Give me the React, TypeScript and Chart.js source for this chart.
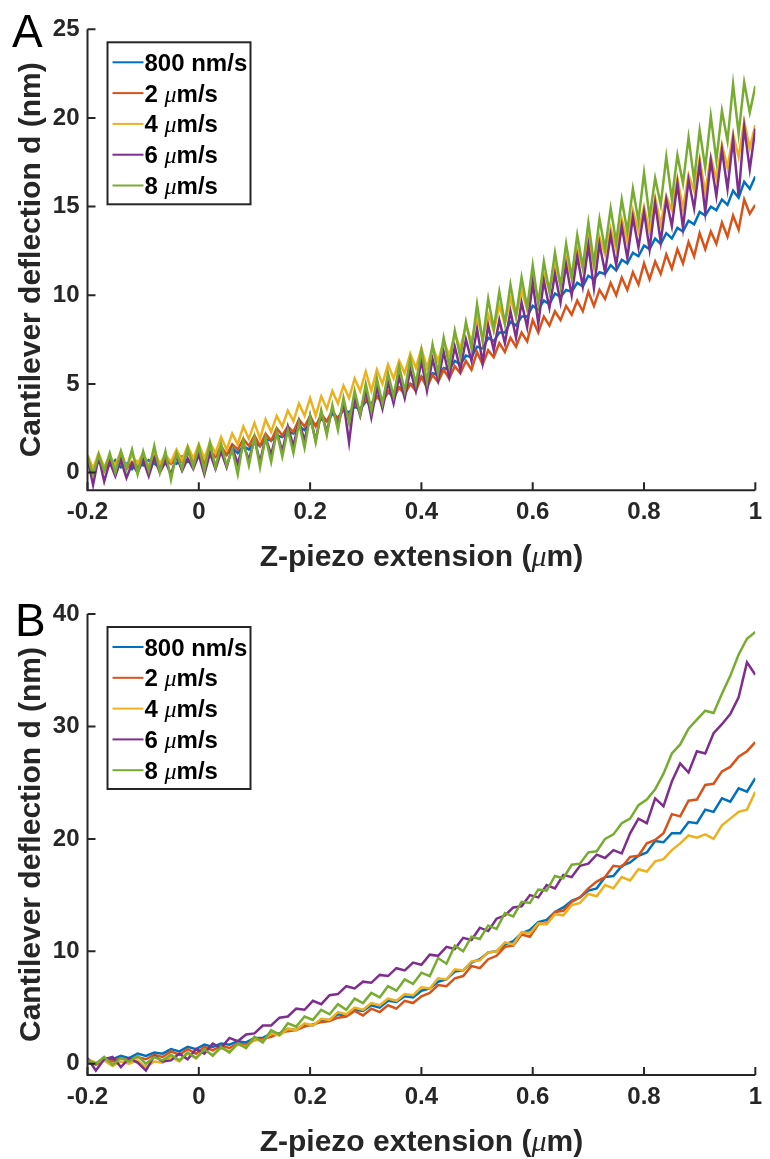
import React, { useEffect, useRef } from "react";
import { Chart, registerables } from "chart.js";

Chart.register(...registerables);

// ---------- data ----------
const seriesLabels = ["800 nm/s", "2 μm/s", "4 μm/s", "6 μm/s", "8 μm/s"];
const seriesColors = ["#0072BD", "#D95319", "#EDB120", "#7E2F8E", "#77AC30"];
const xTicks = [-0.2, 0, 0.2, 0.4, 0.6, 0.8, 1];
const yTicksA = [0, 5, 10, 15, 20, 25];
const yTicksB = [0, 10, 20, 30, 40];
const xTitle = "Z-piezo extension (μm)";
const yTitle = "Cantilever deflection d (nm)";

// Panel A: Z-piezo extension (μm)
const xA = [
  -0.2, -0.19, -0.18, -0.17, -0.16, -0.15, -0.14, -0.13, -0.12, -0.11,
  -0.1, -0.09, -0.08, -0.07, -0.06, -0.05, -0.04, -0.03, -0.02, -0.01,
  0, 0.01, 0.02, 0.03, 0.04, 0.05, 0.06, 0.07, 0.08, 0.09,
  0.1, 0.11, 0.12, 0.13, 0.14, 0.15, 0.16, 0.17, 0.18, 0.19,
  0.2, 0.21, 0.22, 0.23, 0.24, 0.25, 0.26, 0.27, 0.28, 0.29,
  0.3, 0.31, 0.32, 0.33, 0.34, 0.35, 0.36, 0.37, 0.38, 0.39,
  0.4, 0.41, 0.42, 0.43, 0.44, 0.45, 0.46, 0.47, 0.48, 0.49,
  0.5, 0.51, 0.52, 0.53, 0.54, 0.55, 0.56, 0.57, 0.58, 0.59,
  0.6, 0.61, 0.62, 0.63, 0.64, 0.65, 0.66, 0.67, 0.68, 0.69,
  0.7, 0.71, 0.72, 0.73, 0.74, 0.75, 0.76, 0.77, 0.78, 0.79,
  0.8, 0.81, 0.82, 0.83, 0.84, 0.85, 0.86, 0.87, 0.88, 0.89,
  0.9, 0.91, 0.92, 0.93, 0.94, 0.95, 0.96, 0.97, 0.98, 0.99,
  1,
];
const a800 = [
  0.5, 0.2, 0.6, 0.3, 0.4, 0.7, 0.3, 0.5, 0.2, 0.6,
  0.4, 0.7, 0.5, 0.3, 0.8, 0.6, 0.5, 0.9, 0.6, 0.8,
  1.0, 0.7, 1.1, 0.9, 1.2, 1.0, 1.4, 1.1, 1.5, 1.3,
  1.7, 1.5, 1.9, 1.8, 2.1, 2.0, 2.3, 2.2, 2.6, 2.4,
  2.8, 2.7, 3.0, 2.9, 3.3, 3.1, 3.5, 3.4, 3.7, 3.6,
  4.0, 3.9, 4.3, 4.1, 4.5, 4.4, 4.8, 4.6, 5.0, 4.9,
  5.4, 5.2, 5.6, 5.5, 5.9, 5.8, 6.3, 6.1, 6.6, 6.5,
  7.1, 7.0, 7.6, 7.4, 7.9, 7.9, 8.5, 8.3, 8.8, 8.8,
  9.4, 9.2, 9.7, 9.5, 10.1, 9.9, 10.3, 10.2, 10.7, 10.5,
  11.1, 10.9, 11.3, 11.2, 11.7, 11.4, 12.0, 11.8, 12.4, 12.2,
  12.8, 12.6, 13.2, 12.9, 13.5, 13.2, 13.8, 13.6, 14.2, 14.0,
  14.7, 14.5, 15.0, 14.8, 15.4, 15.1, 15.9, 15.5, 16.4, 16.0,
  16.7,
];
const a2 = [
  0.9, 0.2, 0.8, 0.1, 0.7, 0.4, 0.9, 0.2, 0.6, 0.3,
  0.8, 0.3, 0.9, 0.4, 0.7, 0.5, 1.0, 0.6, 1.1, 0.7,
  1.3, 0.6, 1.2, 0.9, 1.5, 1.0, 1.6, 1.3, 1.9, 1.5,
  2.1, 1.5, 2.2, 1.8, 2.5, 2.1, 2.6, 2.3, 3.0, 2.6,
  3.2, 2.6, 3.3, 2.9, 3.5, 3.0, 3.6, 3.2, 3.9, 3.5,
  4.2, 3.6, 4.3, 3.9, 4.6, 4.2, 4.8, 4.4, 5.0, 4.6,
  5.4, 4.8, 5.5, 5.1, 5.8, 5.3, 6.0, 5.6, 6.3, 5.8,
  6.8, 6.1, 6.9, 6.5, 7.3, 6.8, 7.6, 7.1, 7.9, 7.4,
  8.6, 7.9, 8.8, 8.3, 9.1, 8.6, 9.4, 8.9, 9.7, 9.1,
  10.2, 9.4, 10.3, 9.8, 10.7, 10.0, 11.0, 10.3, 11.3, 10.6,
  11.8, 10.9, 11.9, 11.2, 12.3, 11.5, 12.6, 11.8, 13.0, 12.2,
  13.5, 12.6, 13.6, 12.9, 14.1, 13.3, 14.5, 13.7, 15.4, 14.6,
  15.1,
];
const a4 = [
  1.0, 0.2, 1.1, 0.3, 0.9, 0.4, 1.2, 0.3, 1.0, 0.5,
  1.1, 0.3, 1.2, 0.5, 1.0, 0.6, 1.3, 0.7, 1.5, 0.8,
  1.6, 0.8, 1.7, 1.1, 2.0, 1.3, 2.2, 1.6, 2.6, 1.9,
  2.8, 1.9, 3.0, 2.3, 3.2, 2.6, 3.5, 2.9, 3.9, 3.2,
  4.2, 3.2, 4.3, 3.6, 4.6, 3.9, 4.9, 4.2, 5.3, 4.6,
  5.7, 4.6, 5.8, 5.0, 6.1, 5.3, 6.3, 5.6, 6.7, 5.9,
  7.0, 5.9, 7.1, 6.3, 7.4, 6.6, 7.8, 7.0, 8.3, 7.4,
  8.8, 7.5, 8.9, 8.0, 9.4, 8.4, 9.8, 8.8, 10.3, 9.2,
  11.1, 9.7, 11.2, 10.3, 11.7, 10.6, 12.1, 11.0, 12.6, 11.5,
  13.2, 11.6, 13.3, 12.3, 13.8, 12.6, 14.3, 13.0, 14.8, 13.6,
  15.0, 13.6, 15.5, 14.0, 15.6, 14.8, 16.6, 14.9, 16.8, 15.9,
  17.7, 15.8, 17.8, 16.6, 18.5, 17.2, 19.1, 17.8, 19.8, 18.3,
  19.6,
];
const a6 = [
  0.8, -0.7, 0.9, -0.5, 0.6, -0.2, 0.7, -0.3, 0.5, 0.0,
  0.7, -0.2, 0.8, 0.0, 0.6, -0.1, 0.9, 0.1, 0.8, 0.2,
  1.0, -0.1, 1.1, 0.2, 1.2, 0.3, 1.4, 0.5, 1.6, 0.7,
  1.9, 0.6, 2.0, 1.0, 2.3, 1.2, 2.6, 1.5, 2.9, 1.8,
  3.2, 1.8, 3.4, 2.3, 3.6, 2.6, 4.0, 1.7, 4.3, 3.2,
  4.7, 3.1, 4.8, 3.6, 5.1, 3.9, 5.4, 4.2, 5.8, 4.6,
  6.3, 4.6, 6.4, 5.2, 6.8, 5.4, 7.1, 5.8, 7.5, 6.3,
  8.1, 6.2, 8.3, 6.9, 8.6, 7.3, 9.1, 7.6, 9.6, 8.2,
  10.7, 8.4, 10.8, 9.3, 11.2, 9.6, 11.7, 10.0, 12.2, 10.5,
  12.8, 10.4, 12.9, 11.3, 13.4, 11.7, 13.9, 12.1, 14.4, 12.7,
  14.7, 12.6, 15.2, 13.0, 15.4, 13.9, 16.3, 13.8, 16.5, 14.9,
  17.4, 14.7, 17.6, 15.6, 18.2, 16.0, 18.8, 15.6, 19.5, 17.1,
  19.4,
];
const a8 = [
  0.9, -0.1, 1.0, 0.1, 1.1, 0.0, 1.2, 0.2, 1.3, -0.1,
  1.2, 0.1, 1.5, 0.0, 1.2, -0.4, 1.1, 0.2, 1.4, 0.3,
  1.5, 0.1, 1.7, 0.3, 1.6, 0.4, 1.3, -0.1, 1.8, 0.4,
  2.0, 0.3, 2.0, 0.6, 2.3, 0.9, 2.4, 1.1, 2.8, 1.4,
  3.2, 1.7, 3.5, 2.1, 3.8, 2.4, 4.2, 2.8, 4.6, 3.3,
  5.0, 3.5, 5.3, 3.9, 5.6, 4.3, 6.0, 4.6, 6.4, 5.0,
  6.9, 5.1, 7.2, 5.6, 7.6, 6.0, 8.0, 6.5, 8.5, 7.0,
  9.5, 7.4, 9.8, 8.1, 10.2, 8.4, 10.6, 8.8, 11.0, 9.3,
  11.7, 9.5, 11.9, 10.2, 12.4, 10.5, 12.9, 11.0, 13.4, 11.6,
  14.1, 11.8, 14.3, 12.6, 14.9, 13.0, 15.4, 13.6, 16.0, 14.2,
  16.9, 14.4, 16.6, 15.1, 17.8, 15.4, 17.9, 16.3, 18.9, 16.5,
  19.3, 17.2, 20.1, 17.6, 20.4, 18.7, 21.9, 19.1, 22.0, 20.3,
  21.8,
];

// Panel B
const xB = [
  -0.2, -0.185, -0.17, -0.155, -0.14, -0.125, -0.11, -0.095, -0.08, -0.065,
  -0.05, -0.035, -0.02, -0.005, 0.01, 0.025, 0.04, 0.055, 0.07, 0.085,
  0.1, 0.115, 0.13, 0.145, 0.16, 0.175, 0.19, 0.205, 0.22, 0.235,
  0.25, 0.265, 0.28, 0.295, 0.31, 0.325, 0.34, 0.355, 0.37, 0.385,
  0.4, 0.415, 0.43, 0.445, 0.46, 0.475, 0.49, 0.505, 0.52, 0.535,
  0.55, 0.565, 0.58, 0.595, 0.61, 0.625, 0.64, 0.655, 0.67, 0.685,
  0.7, 0.715, 0.73, 0.745, 0.76, 0.775, 0.79, 0.805, 0.82, 0.835,
  0.85, 0.865, 0.88, 0.895, 0.91, 0.925, 0.94, 0.955, 0.97, 0.985,
  1,
];
const b800 = [
  0.3, 0.0, 0.5, 0.4, 0.7, 0.5, 0.9, 0.7, 1.0, 0.9,
  1.3, 1.1, 1.5, 1.3, 1.7, 1.5, 1.8, 1.7, 2.0, 1.9,
  2.3, 2.3, 2.7, 2.7, 3.1, 3.0, 3.5, 3.4, 3.9, 3.9,
  4.4, 4.3, 4.8, 4.7, 5.2, 5.0, 5.6, 5.5, 6.0, 5.9,
  6.5, 6.7, 7.3, 7.5, 8.2, 8.3, 9.0, 9.3, 9.9, 10.0,
  10.6, 10.9, 11.6, 11.9, 12.6, 12.8, 13.5, 13.9, 14.5, 14.8,
  15.4, 15.6, 16.6, 16.7, 17.6, 17.9, 18.5, 18.8, 19.8, 19.7,
  20.5, 20.5, 21.5, 21.4, 22.6, 22.4, 23.6, 23.3, 24.5, 24.2,
  25.4,
];
const b2 = [
  0.4, -0.1, 0.3, 0.2, 0.5, 0.3, 0.6, 0.4, 0.8, 0.6,
  1.1, 0.8, 1.3, 0.9, 1.5, 1.2, 1.6, 1.4, 1.8, 1.7,
  2.1, 2.2, 2.4, 2.7, 2.9, 3.0, 3.3, 3.5, 3.7, 3.8,
  4.1, 4.2, 4.7, 4.3, 4.9, 4.6, 5.2, 4.9, 5.6, 5.4,
  6.0, 6.3, 7.0, 6.9, 7.6, 7.8, 8.7, 8.5, 9.3, 9.6,
  10.4, 10.5, 11.5, 11.3, 12.4, 12.5, 13.5, 13.6, 14.4, 14.8,
  15.6, 16.2, 16.6, 17.6, 17.5, 18.4, 18.5, 19.6, 19.9, 20.5,
  22.2, 22.0, 23.4, 23.5, 24.8, 24.9, 26.0, 26.4, 27.3, 27.8,
  28.6,
];
const b4 = [
  0.4, 0.1, 0.3, -0.2, 0.2, 0.0, 0.3, -0.3, 0.2, 0.1,
  0.6, 0.2, 0.9, 0.5, 1.2, 0.8, 1.4, 1.1, 1.7, 1.5,
  2.2, 2.0, 2.7, 2.5, 3.1, 3.0, 3.6, 3.4, 4.0, 3.9,
  4.6, 4.4, 5.0, 4.8, 5.4, 5.2, 5.8, 5.6, 6.2, 6.1,
  6.8, 6.7, 7.6, 7.5, 8.4, 8.3, 9.1, 9.2, 9.9, 10.0,
  10.8, 10.6, 11.7, 11.6, 12.5, 12.4, 13.3, 13.2, 14.1, 14.3,
  15.1, 14.9, 15.9, 15.6, 16.6, 16.3, 17.3, 17.1, 18.0, 18.2,
  19.0, 19.6, 20.3, 20.1, 20.4, 20.0, 21.2, 21.8, 22.4, 22.6,
  24.2,
];
const b6 = [
  0.5, -0.6, 0.4, 0.6, -0.3, 0.5, 0.1, -0.6, 0.7, 0.2,
  0.3, 0.9, 0.4, 1.3, 0.9, 1.8, 1.4, 2.3, 2.0, 2.6,
  2.7, 3.4, 3.4, 4.1, 4.2, 4.9, 4.8, 5.6, 5.3, 6.1,
  6.2, 6.9, 6.7, 7.3, 7.2, 7.9, 7.8, 8.5, 8.3, 9.0,
  8.8, 9.7, 9.6, 10.4, 10.2, 11.2, 11.0, 12.1, 11.8, 12.9,
  13.2, 13.9, 14.0, 15.0, 14.8, 15.9, 15.6, 16.8, 16.6, 17.6,
  17.8, 18.6, 18.3, 19.0, 18.7, 20.5, 21.8, 21.4, 23.6, 22.9,
  25.1, 26.7, 25.9, 27.8, 27.6, 29.4, 30.2, 31.1, 32.6, 35.7,
  34.6,
];
const b8 = [
  0.3, 0.0, 0.6, -0.1, 0.5, 0.2, 0.7, 0.0, 0.6, 0.3,
  0.8, 0.3, 1.0, 0.5, 1.3, 0.7, 1.5, 1.0, 1.8, 1.4,
  2.4, 1.9, 3.0, 2.6, 3.6, 3.3, 4.2, 3.9, 4.8, 4.4,
  5.3, 4.8, 5.8, 5.4, 6.3, 5.9, 6.9, 6.5, 7.5, 7.1,
  8.1, 7.8, 9.4, 8.9, 10.5, 10.0, 11.3, 11.1, 12.3, 12.0,
  13.4, 13.1, 14.4, 14.3, 15.5, 15.4, 16.7, 16.5, 17.7, 17.8,
  18.8, 18.9, 20.0, 20.4, 21.4, 21.8, 23.0, 23.5, 24.4, 25.8,
  27.6, 28.4, 29.8, 30.6, 31.4, 31.2, 32.9, 34.5, 36.4, 37.8,
  38.4,
];

// ---------- styling ----------
const INK = "#262626";
const FAM = '"Liberation Sans", Arial, Helvetica, sans-serif';
const MUFAM = '"Liberation Serif", "Times New Roman", serif';
const TICK_SIZE = 24;
const LEG_SIZE = 24;
const TITLE_SIZE = 30;

type Part = { text: string; font: string };

function richParts(label: string, size: number): Part[] {
  const bold = `bold ${size}px ${FAM}`;
  const mu = `italic ${size}px ${MUFAM}`;
  const pieces = label.split("μ");
  const parts: Part[] = [];
  pieces.forEach((p, i) => {
    if (i > 0) parts.push({ text: "μ", font: mu });
    if (p) parts.push({ text: p, font: bold });
  });
  return parts;
}

function drawRich(ctx: CanvasRenderingContext2D, parts: Part[], x: number, y: number, align: "left" | "center") {
  let total = 0;
  for (const p of parts) {
    ctx.font = p.font;
    total += ctx.measureText(p.text).width;
  }
  let cx = align === "center" ? x - total / 2 : x;
  ctx.textAlign = "left";
  for (const p of parts) {
    ctx.font = p.font;
    ctx.fillText(p.text, cx, y);
    cx += ctx.measureText(p.text).width;
  }
}

type PanelProps = {
  top: number;
  height: number;
  xs: number[];
  series: number[][];
  yMin: number;
  yMax: number;
  yTicks: number[];
  area: { left: number; right: number; top: number; bottom: number };
  letter: string;
  letterPos: { x: number; y: number };
};

const X_AXIS_H = 60;

function Panel(props: PanelProps) {
  const ref = useRef<HTMLCanvasElement | null>(null);
  useEffect(() => {
    const { xs, series, yMin, yMax, yTicks, area, height, letter, letterPos } = props;
    const overlay = {
      id: "overlay",
      afterDraw(chart: any) {
        const ctx: CanvasRenderingContext2D = chart.ctx;
        const ca = chart.chartArea;
        const xs_ = chart.scales.x;
        const ys_ = chart.scales.y;
        ctx.save();
        ctx.strokeStyle = INK;
        ctx.fillStyle = INK;
        ctx.lineWidth = 2;
        // axes
        ctx.beginPath();
        ctx.moveTo(ca.left, ca.top);
        ctx.lineTo(ca.left, ca.bottom);
        ctx.lineTo(ca.right, ca.bottom);
        ctx.stroke();
        // tick marks (inside)
        ctx.beginPath();
        for (const v of yTicks) {
          const py = ys_.getPixelForValue(v);
          ctx.moveTo(ca.left, py);
          ctx.lineTo(ca.left + 8, py);
        }
        for (const v of xTicks) {
          const px = xs_.getPixelForValue(v);
          ctx.moveTo(px, ca.bottom);
          ctx.lineTo(px, ca.bottom - 8);
        }
        ctx.stroke();

        // legend
        const bx = ca.left + 20;
        const by = ca.top + 13;
        const bw = 143;
        const bh = 162;
        ctx.fillStyle = "#ffffff";
        ctx.fillRect(bx, by, bw, bh);
        ctx.strokeStyle = INK;
        ctx.lineWidth = 2;
        ctx.strokeRect(bx, by, bw, bh);
        seriesLabels.forEach((lab, i) => {
          const cy = by + 20 + i * 30.8;
          ctx.strokeStyle = seriesColors[i];
          ctx.lineWidth = 2;
          ctx.beginPath();
          ctx.moveTo(bx + 5, cy);
          ctx.lineTo(bx + 36, cy);
          ctx.stroke();
          ctx.fillStyle = "#000000";
          ctx.textBaseline = "alphabetic";
          drawRich(ctx, richParts(lab, LEG_SIZE), bx + 37, cy + 8.5, "left");
        });

        // x title
        ctx.fillStyle = INK;
        ctx.textBaseline = "alphabetic";
        drawRich(ctx, richParts(xTitle, TITLE_SIZE), (ca.left + ca.right) / 2, ca.bottom + 76, "center");

        // y title
        ctx.save();
        ctx.translate(40, (ca.top + ca.bottom) / 2);
        ctx.rotate(-Math.PI / 2);
        drawRich(ctx, richParts(yTitle, TITLE_SIZE), 0, 0, "center");
        ctx.restore();

        // panel letter
        ctx.fillStyle = "#000000";
        ctx.font = `46px ${FAM}`;
        ctx.textAlign = "left";
        ctx.fillText(letter, letterPos.x, letterPos.y);
        ctx.restore();
      },
    };

    const datasets = series.map((ys, i) => ({
      label: seriesLabels[i],
      data: xs.map((x, j) => ({ x, y: ys[j] })),
      borderColor: seriesColors[i],
      backgroundColor: seriesColors[i],
      borderWidth: 2.5,
      pointRadius: 0,
      tension: 0,
      fill: false,
      order: series.length - i,
    }));

    const chart = new Chart(ref.current as HTMLCanvasElement, {
      type: "line",
      data: { datasets },
      options: {
        animation: false,
        responsive: false,
        maintainAspectRatio: false,
        devicePixelRatio: 1,
        events: [],
        layout: {
          padding: {
            left: 0,
            top: area.top,
            right: 770 - area.right,
            bottom: height - area.bottom - X_AXIS_H,
          },
        },
        plugins: { legend: { display: false }, tooltip: { enabled: false } },
        scales: {
          x: {
            type: "linear",
            min: -0.2,
            max: 1,
            afterFit(s: any) {
              s.height = X_AXIS_H;
            },
            afterBuildTicks(s: any) {
              s.ticks = xTicks.map((v) => ({ value: v }));
            },
            grid: { display: false, drawTicks: false },
            border: { display: false },
            ticks: {
              color: INK,
              padding: 8,
              maxRotation: 0,
              autoSkip: false,
              font: { family: FAM, size: TICK_SIZE, weight: "bold" },
              callback: (v: any) => String(Math.round(Number(v) * 10) / 10),
            },
          },
          y: {
            type: "linear",
            min: yMin,
            max: yMax,
            afterFit(s: any) {
              s.width = area.left;
            },
            afterBuildTicks(s: any) {
              s.ticks = yTicks.map((v) => ({ value: v }));
            },
            grid: { display: false, drawTicks: false },
            border: { display: false },
            ticks: {
              color: INK,
              padding: 8,
              autoSkip: false,
              font: { family: FAM, size: TICK_SIZE, weight: "bold" },
              callback: (v: any) => String(v),
            },
          },
        },
      },
      plugins: [overlay],
    } as any);
    return () => chart.destroy();
  }, []);
  return (
    <canvas
      ref={ref}
      width={770}
      height={props.height}
      style={{ position: "absolute", left: 0, top: props.top, width: 770, height: props.height, display: "block" }}
    />
  );
}

export default function App() {
  return (
    <div style={{ position: "absolute", left: 0, top: 0, width: 770, height: 1159, background: "#ffffff" }}>
      <Panel
        top={0}
        height={580}
        xs={xA}
        series={[a800, a2, a4, a6, a8]}
        yMin={-1}
        yMax={25}
        yTicks={yTicksA}
        area={{ left: 87.5, right: 759.5, top: 29.3, bottom: 490.3 }}
        letter="A"
        letterPos={{ x: 12, y: 47 }}
      />
      <Panel
        top={580}
        height={579}
        xs={xB}
        series={[b800, b2, b4, b6, b8]}
        yMin={-1}
        yMax={40}
        yTicks={yTicksB}
        area={{ left: 87.5, right: 759.5, top: 34, bottom: 495 }}
        letter="B"
        letterPos={{ x: 15, y: 56 }}
      />
    </div>
  );
}
